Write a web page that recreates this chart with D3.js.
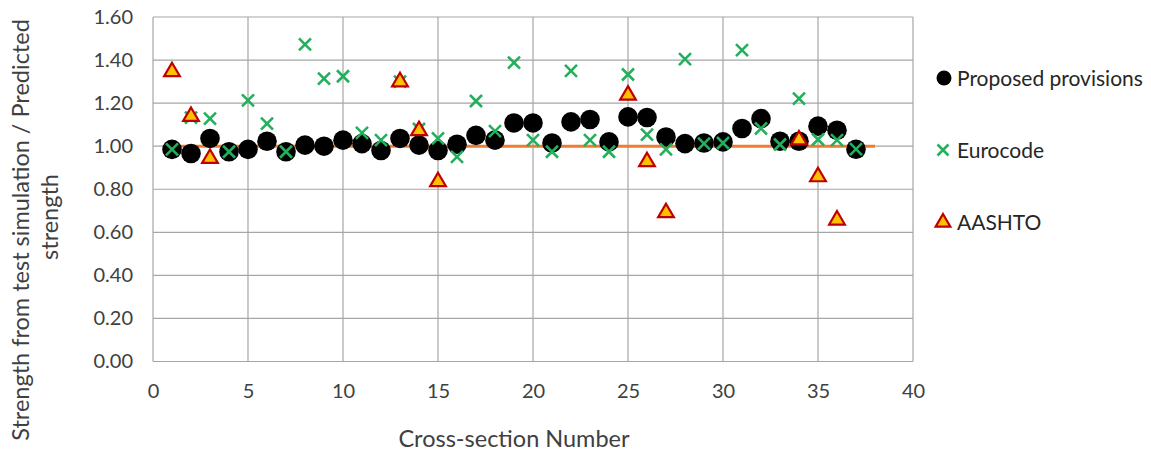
<!DOCTYPE html>
<html><head><meta charset="utf-8">
<script src="https://cdn.jsdelivr.net/npm/d3@7"></script>
<style>body{margin:0;background:#fff;} text{font-family:Lato, "Open Sans", sans-serif;}</style>
</head><body>
<svg id="c" width="1151" height="452"></svg>
<script>
const sections = d3.range(1, 38);
const proposed = [0.985,0.966,1.036,0.974,0.985,1.023,0.974,1.005,1.000,1.028,1.012,0.980,1.036,1.005,0.980,1.009,1.050,1.028,1.108,1.108,1.015,1.113,1.124,1.020,1.136,1.133,1.043,1.012,1.015,1.020,1.082,1.128,1.023,1.023,1.093,1.074,0.986];
const eurocode = [0.985,1.133,1.128,0.974,1.213,1.105,0.974,1.473,1.314,1.325,1.062,1.028,1.300,1.080,1.036,0.950,1.210,1.070,1.388,1.028,0.974,1.350,1.028,0.974,1.333,1.054,0.985,1.404,1.012,1.015,1.446,1.082,1.008,1.221,1.031,1.028,0.986];
const aashtoX = [1,2,3,13,14,15,25,26,27,34,35,36];
const aashto = [1.353,1.145,0.950,1.306,1.079,0.842,1.244,0.935,0.698,1.036,0.865,0.664];
const refLineX = [1, 38];
const refLineY = [1.0, 1.0];
const xTicks = [0,5,10,15,20,25,30,35,40];
const yTicks = [0,0.2,0.4,0.6,0.8,1.0,1.2,1.4,1.6];
const legendLabels = ["Proposed provisions","Eurocode","AASHTO"];

const svg = d3.select("#c");
const L = 153, R = 913, T = 17, B = 361.5;
const x = d3.scaleLinear().domain([0,40]).range([L,R]);
const y = d3.scaleLinear().domain([0,1.6]).range([B,T]);

// gridlines
svg.append("g").selectAll("line").data(yTicks).join("line")
  .attr("x1",L).attr("x2",R).attr("y1",d=>y(d)).attr("y2",d=>y(d))
  .attr("stroke","#a6a6a6").attr("stroke-width",1.2);
svg.append("g").selectAll("line").data(xTicks).join("line")
  .attr("y1",T).attr("y2",B).attr("x1",d=>x(d)).attr("x2",d=>x(d))
  .attr("stroke","#a6a6a6").attr("stroke-width",1.2);

// axes labels
const yAxis = d3.axisLeft(y).tickValues(yTicks).tickFormat(d3.format(".2f")).tickSize(0).tickPadding(20);
const gy = svg.append("g").attr("transform",`translate(${L},0)`).call(yAxis);
gy.select(".domain").remove();
gy.selectAll("text").attr("font-size",20).attr("fill","#404040").style("font-family","Lato");
const xAxis = d3.axisBottom(x).tickValues(xTicks).tickSize(0).tickPadding(22);
const gx = svg.append("g").attr("transform",`translate(0,${B})`).call(xAxis);
gx.select(".domain").remove();
gx.selectAll("text").attr("font-size",20).attr("fill","#404040").style("font-family","Lato");

// titles
svg.append("text").attr("x",514).attr("y",447).attr("text-anchor","middle")
  .attr("font-size",23.5).attr("fill","#404040").text("Cross-section Number");
const yt = svg.append("text").attr("transform","rotate(-90)")
  .attr("text-anchor","middle").attr("font-size",23.5).attr("fill","#404040");
yt.append("tspan").attr("x",-230).attr("y",29).text("Strength from test simulation / Predicted");
yt.append("tspan").attr("x",-217).attr("y",58).text("strength");

// reference line
svg.append("path").datum(refLineX.map((d,i)=>[d,refLineY[i]]))
  .attr("d",d3.line().x(d=>x(d[0])).y(d=>y(d[1])))
  .attr("stroke","#ED7D31").attr("stroke-width",3).attr("fill","none");

// series
const cross = (g, cx, cy, s) => g.append("path")
  .attr("d",`M${cx-s},${cy-s}L${cx+s},${cy+s}M${cx-s},${cy+s}L${cx+s},${cy-s}`)
  .attr("stroke","#22B05C").attr("stroke-width",2.6).attr("fill","none");
const tri = (g, cx, cy, s) => g.append("path")
  .attr("d",`M${cx},${cy-s}L${cx+s*1.05},${cy+s*0.8}L${cx-s*1.05},${cy+s*0.8}Z`)
  .attr("fill","#FFC000").attr("stroke","#C00000").attr("stroke-width",2.2).attr("stroke-linejoin","miter");

svg.append("g").selectAll("circle").data(proposed).join("circle")
  .attr("cx",(d,i)=>x(sections[i])).attr("cy",d=>y(d)).attr("r",9.8).attr("fill","#000");
const gE = svg.append("g");
eurocode.forEach((d,i)=>cross(gE, x(sections[i]), y(d), 6));
const gA = svg.append("g");
aashto.forEach((d,i)=>tri(gA, x(aashtoX[i]), y(d), 7.5));

// legend
const lg = svg.append("g");
const ly = [78,150,222];
lg.append("circle").attr("cx",944).attr("cy",ly[0]).attr("r",7.5).attr("fill","#000");
cross(lg, 943, ly[1], 5.5);
tri(lg, 943, ly[2]-1, 7);
legendLabels.forEach((t,i)=>lg.append("text").attr("x",957).attr("y",ly[i]+7.5)
  .attr("font-size",21).attr("fill","#262626").text(t));
</script>
</body></html>
